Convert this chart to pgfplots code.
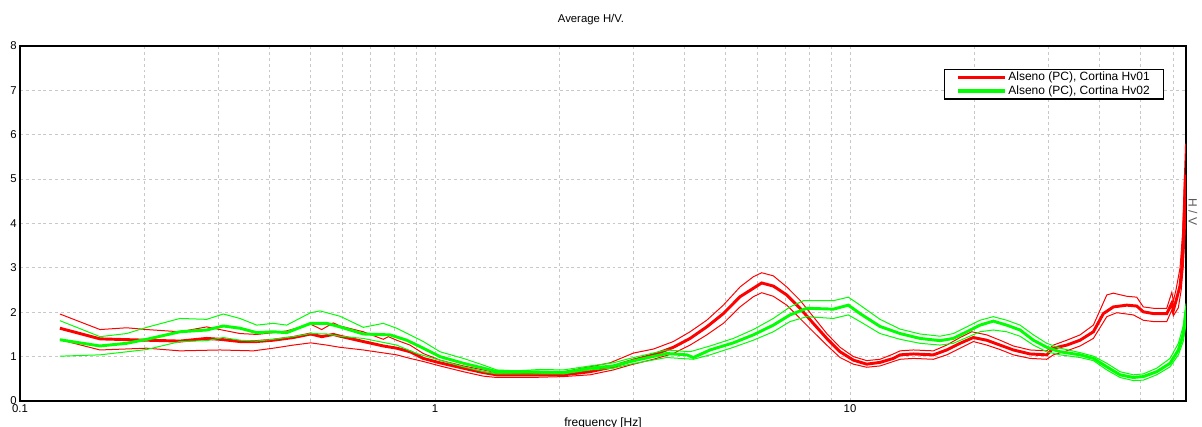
\documentclass[border=0pt]{standalone}
\usepackage{fontspec}
\setmainfont{Liberation Sans}
\usepackage{pgfplots}
\pgfplotsset{compat=1.18}

\definecolor{hvred}{RGB}{255,0,0}
\definecolor{hvgreen}{RGB}{0,255,0}
\definecolor{gridgray}{RGB}{200,200,200}

\begin{document}
\begin{tikzpicture}
\useasboundingbox (0,0) rectangle (901.5pt,320.25pt);
\begin{axis}[
    at={(15pt,19.5pt)}, anchor=south west,
    scale only axis,
    width=874.5pt, height=266.25pt,
    xmode=log,
    xmin=0.1, xmax=64.5,
    ymin=0, ymax=8,
    xtick={0.1,1,10},
    xticklabels={0.1,1,10},
    minor xtick={0.2,0.3,0.4,0.5,0.6,0.7,0.8,0.9,2,3,4,5,6,7,8,9,20,30,40,50,60},
    ytick={0,1,2,3,4,5,6,7,8},
    grid=both,
    grid style={gridgray, dash pattern=on 2.2pt off 2.2pt, line width=0.7pt},
    major tick length=0pt, minor tick length=0pt,
    axis line style={line width=1pt},
    tick label style={font=\fontsize{8.5}{10}\selectfont},
    /pgf/number format/assume math mode=true,
    xticklabel style={yshift=1pt},
    yticklabel style={xshift=1pt},
    title={Average H/V.},
    title style={at={(axis description cs:0.4897,1)}, anchor=center, yshift=14pt,
        font=\fontsize{8.5}{10}\selectfont},
    xlabel={frequency [Hz]},
    xlabel style={at={(axis description cs:0.5,0)}, anchor=center, yshift=-17pt,
        font=\fontsize{9}{10}\selectfont},
    ylabel={H / V},
    ylabel style={at={(axis description cs:1.006,0.532)}, anchor=center, rotate=180,
        font=\fontsize{9}{10}\selectfont, text=black!65},
    legend cell align=left,
    legend image code/.code={\draw[#1, line width=2.4pt] (0pt,0pt) -- (35pt,0pt);},
    legend style={at={(axis description cs:0.9814,0.935)}, anchor=north east,
        draw=black, line width=0.8pt, fill=white,
        font=\fontsize{9}{10}\selectfont,
        inner xsep=9pt, inner ysep=0.5pt, row sep=-1pt,
        nodes={inner sep=1.5pt},
        /tikz/every even column/.append style={column sep=3pt}},
]
% --- Hv01 (red): mean and +/- curves
\addplot[hvred, line width=2.2pt] coordinates {
(0.1248,1.64) (0.1559,1.40) (0.2020,1.37) (0.2429,1.35) (0.2818,1.41) (0.3032,1.39)
(0.3389,1.34) (0.3719,1.34) (0.4077,1.37) (0.4556,1.43) (0.5017,1.51) (0.5333,1.45)
(0.5687,1.50) (0.5903,1.46) (0.6718,1.34) (0.7506,1.24) (0.8083,1.19) (0.8706,1.11)
(0.9371,0.96) (1.028,0.86) (1.170,0.74) (1.307,0.64) (1.408,0.59) (1.694,0.59)
(2.038,0.59) (2.363,0.66) (2.689,0.77) (2.792,0.83) (3.006,0.92) (3.358,1.04)
(3.753,1.21) (4.117,1.41) (4.516,1.67) (4.952,1.97) (5.432,2.35) (5.848,2.54)
(6.126,2.66) (6.535,2.59) (7.040,2.39) (7.577,2.09) (8.155,1.75) (8.788,1.41)
(9.461,1.11) (10.19,0.92) (10.97,0.83) (11.81,0.87) (12.72,0.96) (13.20,1.04)
(14.21,1.06) (15.88,1.04) (17.10,1.15) (18.41,1.30) (19.82,1.43) (21.35,1.37)
(22.98,1.26) (24.75,1.15) (27.15,1.06) (29.79,1.04) (30.90,1.19) (33.29,1.26)
(35.84,1.37) (38.58,1.56) (40.78,1.97) (43.10,2.12) (46.42,2.16) (49.07,2.14)
(50.89,2.01) (53.81,1.97) (57.96,1.97) (59.61,2.20) (60.13,2.05) (61.2,2.30)
(62.4,2.60) (63.0,3.00) (63.56,3.60) (64.0,4.40) (64.35,5.10)};
\addlegendentry{Alseno (PC), Cortina Hv01}
\addplot[hvred, line width=0.75pt, forget plot] coordinates {
(0.1248,1.96) (0.1559,1.61) (0.1807,1.65) (0.2020,1.61) (0.2429,1.56) (0.2818,1.67)
(0.3032,1.61) (0.3389,1.52) (0.3719,1.50) (0.4077,1.54) (0.4392,1.58) (0.5017,1.73)
(0.5333,1.61) (0.5687,1.76) (0.5903,1.69) (0.6718,1.56) (0.7506,1.39) (0.7718,1.45)
(0.8083,1.37) (0.8706,1.26) (0.9371,1.07) (1.028,0.92) (1.170,0.79) (1.307,0.70)
(1.408,0.64) (1.694,0.62) (2.038,0.66) (2.363,0.77) (2.641,0.86) (3.006,1.08)
(3.358,1.17) (3.753,1.34) (4.117,1.56) (4.516,1.82) (4.952,2.16) (5.432,2.57)
(5.848,2.80) (6.126,2.89) (6.535,2.82) (7.040,2.57) (7.577,2.27) (8.155,1.90)
(8.788,1.52) (9.461,1.21) (10.19,1.00) (10.97,0.91) (11.81,0.94) (12.72,1.06)
(13.20,1.13) (14.21,1.15) (15.88,1.13) (17.10,1.26) (18.41,1.43) (19.65,1.56)
(21.35,1.49) (22.98,1.37) (24.75,1.24) (27.15,1.15) (29.79,1.13) (30.90,1.26)
(33.29,1.37) (35.84,1.49) (38.58,1.71) (41.56,2.39) (43.10,2.43) (46.42,2.36)
(49.07,2.34) (50.89,2.12) (53.81,2.09) (57.96,2.09) (59.61,2.45) (60.13,2.25)
(61.0,2.50) (62.4,3.00) (63.3,3.80) (63.8,4.80) (64.35,5.80)};
\addplot[hvred, line width=0.75pt, forget plot] coordinates {
(0.1248,1.38) (0.1559,1.15) (0.2020,1.19) (0.2429,1.13) (0.3032,1.15) (0.3650,1.13)
(0.4077,1.19) (0.4556,1.26) (0.5017,1.31) (0.5483,1.26) (0.5903,1.21) (0.6718,1.15)
(0.8083,1.04) (0.8706,0.96) (0.9371,0.89) (1.028,0.79) (1.170,0.66) (1.307,0.56)
(1.408,0.53) (1.694,0.53) (2.038,0.55) (2.363,0.59) (2.689,0.70) (2.951,0.81)
(3.358,0.94) (3.753,1.07) (4.117,1.26) (4.516,1.49) (4.952,1.75) (5.432,2.12)
(5.848,2.35) (6.126,2.44) (6.535,2.36) (7.040,2.16) (7.577,1.86) (8.155,1.56)
(8.788,1.26) (9.461,0.98) (10.19,0.83) (10.97,0.76) (11.81,0.79) (12.72,0.89)
(13.20,0.94) (14.21,0.96) (15.88,0.94) (17.10,1.04) (18.41,1.19) (19.82,1.34)
(21.35,1.26) (22.98,1.16) (24.75,1.04) (27.15,0.96) (29.79,0.94) (30.90,1.04)
(33.29,1.13) (35.84,1.24) (38.58,1.41) (41.56,1.90) (43.92,1.99) (48.16,1.94)
(50.89,1.82) (53.81,1.79) (57.96,1.79) (59.61,2.05) (60.13,1.92) (61.8,2.10)
(62.8,2.50) (63.5,3.00) (64.2,3.80) (64.5,4.50)};
% --- Hv02 (green): mean and +/- curves
\addplot[hvgreen, line width=2.2pt] coordinates {
(0.1248,1.38) (0.1559,1.24) (0.1807,1.30) (0.2020,1.39) (0.2429,1.56) (0.2818,1.60)
(0.3089,1.69) (0.3389,1.64) (0.3719,1.54) (0.4077,1.56) (0.4392,1.54) (0.5017,1.75)
(0.5483,1.75) (0.5903,1.67) (0.6718,1.51) (0.7791,1.49) (0.8548,1.37) (0.9371,1.19)
(1.028,1.00) (1.170,0.85) (1.307,0.74) (1.408,0.66) (1.694,0.66) (2.038,0.64)
(2.363,0.74) (2.689,0.79) (2.951,0.89) (3.617,1.07) (4.042,1.04) (4.193,0.98)
(4.600,1.15) (5.234,1.31) (5.848,1.49) (6.535,1.71) (7.169,1.94) (7.866,2.09)
(9.117,2.07) (9.906,2.16) (10.57,1.97) (11.81,1.68) (13.20,1.52) (14.75,1.41)
(16.48,1.36) (17.74,1.41) (19.11,1.56) (20.57,1.71) (22.14,1.80) (23.85,1.71)
(25.68,1.60) (27.66,1.37) (29.79,1.21) (32.07,1.11) (35.84,1.04) (38.58,0.96)
(41.56,0.77) (44.73,0.59) (48.16,0.53) (50.89,0.55) (54.83,0.66) (59.04,0.85)
(61.83,1.15) (63.56,1.52) (64.52,2.05)};
\addlegendentry{Alseno (PC), Cortina Hv02}
\addplot[hvgreen, line width=0.75pt, forget plot] coordinates {
(0.1248,1.81) (0.1559,1.45) (0.1807,1.52) (0.2020,1.66) (0.2429,1.86) (0.2818,1.84)
(0.3089,1.96) (0.3389,1.86) (0.3719,1.71) (0.4077,1.75) (0.4392,1.71) (0.5017,1.99)
(0.5283,2.03) (0.5903,1.91) (0.6718,1.66) (0.7506,1.75) (0.8083,1.64) (0.8706,1.49)
(0.9371,1.34) (1.028,1.11) (1.170,0.96) (1.307,0.81) (1.408,0.70) (1.573,0.68)
(1.791,0.71) (2.038,0.70) (2.363,0.79) (2.689,0.86) (2.951,0.96) (3.617,1.15)
(4.117,1.11) (4.600,1.24) (5.234,1.41) (5.848,1.61) (6.535,1.86) (7.169,2.12)
(7.718,2.26) (9.117,2.26) (9.906,2.34) (10.57,2.16) (11.81,1.84) (13.20,1.62)
(14.75,1.51) (16.48,1.46) (17.74,1.52) (19.11,1.67) (20.57,1.82) (22.14,1.90)
(23.85,1.82) (25.68,1.71) (27.66,1.49) (29.79,1.30) (32.07,1.19) (35.84,1.09)
(38.58,1.01) (41.56,0.85) (44.73,0.66) (48.16,0.59) (50.89,0.61) (54.83,0.74)
(59.04,0.96) (61.83,1.30) (63.56,1.70) (64.52,2.20)};
\addplot[hvgreen, line width=0.75pt, forget plot] coordinates {
(0.1248,1.01) (0.1559,1.04) (0.2020,1.16) (0.2429,1.34) (0.2818,1.36) (0.3089,1.43)
(0.3389,1.37) (0.3719,1.35) (0.4077,1.39) (0.4556,1.45) (0.5017,1.52) (0.5483,1.51)
(0.5903,1.46) (0.6718,1.41) (0.8083,1.26) (0.9036,1.07) (1.028,0.92) (1.170,0.77)
(1.307,0.66) (1.408,0.61) (1.694,0.61) (2.038,0.61) (2.363,0.70) (2.689,0.74)
(2.951,0.83) (3.617,0.98) (4.193,0.94) (4.600,1.04) (5.234,1.21) (5.848,1.37)
(6.535,1.56) (7.169,1.79) (7.866,1.90) (9.117,1.86) (9.906,1.94) (10.57,1.79)
(11.81,1.52) (13.20,1.39) (14.75,1.30) (16.48,1.26) (17.74,1.30) (19.11,1.43)
(20.57,1.56) (22.14,1.60) (23.85,1.56) (25.68,1.46) (27.66,1.26) (29.79,1.11)
(32.07,1.04) (35.84,0.98) (38.58,0.91) (41.56,0.70) (44.73,0.53) (48.16,0.46)
(50.89,0.47) (54.83,0.59) (59.04,0.77) (61.83,1.04) (63.56,1.35) (64.52,1.75)};
\end{axis}
\end{tikzpicture}
\end{document}
